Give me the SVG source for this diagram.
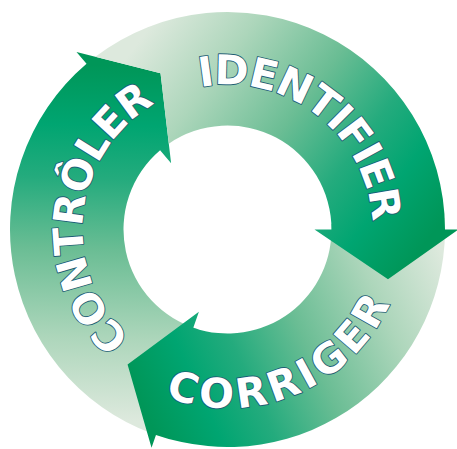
<svg xmlns="http://www.w3.org/2000/svg" xmlns:xlink="http://www.w3.org/1999/xlink" width="457" height="449" viewBox="0 0 457 449">
  <defs>
    <linearGradient id="gBase">
      <stop offset="0" stop-color="#dde9dd"/>
      <stop offset="0.23" stop-color="#add6bb"/>
      <stop offset="0.48" stop-color="#6abd94"/>
      <stop offset="0.68" stop-color="#24ab7d"/>
      <stop offset="0.83" stop-color="#00a571"/>
      <stop offset="1" stop-color="#009658"/>
    </linearGradient>
    <linearGradient id="gK" href="#gBase" xlink:href="#gBase" gradientUnits="userSpaceOnUse" x1="100" y1="420" x2="110" y2="65"/>
    <linearGradient id="gC" href="#gBase" xlink:href="#gBase" gradientUnits="userSpaceOnUse" x1="445" y1="260" x2="140" y2="400"/>
    <linearGradient id="gI" href="#gBase" xlink:href="#gBase" gradientUnits="userSpaceOnUse" x1="140" y1="40" x2="420" y2="250"/>
    <path id="tpI" d="M 91.24,179.91 A 145 145 0 1 1 300,355.07"/>
    <path id="tpC" d="M 51.71,260.50 A 178.5 178.5 0 1 0 382.09,140.25"/>
    <path id="tpK" d="M 227.5,374.5 A 145 145 0 1 1 300,103.93"/>
  </defs>
  <style>
    .lbl{font-family:"DejaVu Sans","Liberation Sans",Arial,sans-serif;font-weight:bold;font-size:41px;fill:#ffffff;stroke:#1f5d75;stroke-width:1.8px;paint-order:stroke;stroke-linejoin:round}
  </style>
  <rect width="457" height="449" fill="#ffffff"/>
  <g id="cycle">
    <g id="controler">
      <path fill="url(#gK)" d="M 166.82,438.36 A 217.5 217.5 0 0 1 86.53,63.86 L 76.49,52.06 L 160.53,73.25 L 171.11,163.25 L 160.10,150.30 A 104 104 0 0 0 198.49,329.37 Z"/>
      <text class="lbl"><textPath href="#tpK" xlink:href="#tpK" startOffset="105.8" textLength="274" lengthAdjust="spacing">CONTRÔLER</textPath></text>
    </g>
    <g id="corriger">
      <path fill="url(#gC)" d="M 444.70,218.12 A 217.5 217.5 0 0 1 155.97,434.90 L 151.53,447.65 L 127.57,364.55 L 198.89,311.66 L 193.30,327.72 A 104 104 0 0 0 331.36,224.06 Z"/>
      <text class="lbl"><textPath href="#tpC" xlink:href="#tpC" startOffset="185.4" textLength="267.3" lengthAdjust="spacing">CORRIGER</textPath></text>
    </g>
    <g id="identifier">
      <path fill="url(#gI)" d="M 160.53,73.25 L 95.29,56.80 A 217.5 217.5 0 0 1 445,229.5 L 458.5,229.5 L 387.99,279.18 L 314.5,229.5 L 331.5,229.5 A 104 104 0 0 0 168.81,143.65 Z"/>
      <text class="lbl"><textPath href="#tpI" xlink:href="#tpI" startOffset="149.6" textLength="247.3" lengthAdjust="spacing">IDENTIFIER</textPath></text>
    </g>
  </g>
</svg>
